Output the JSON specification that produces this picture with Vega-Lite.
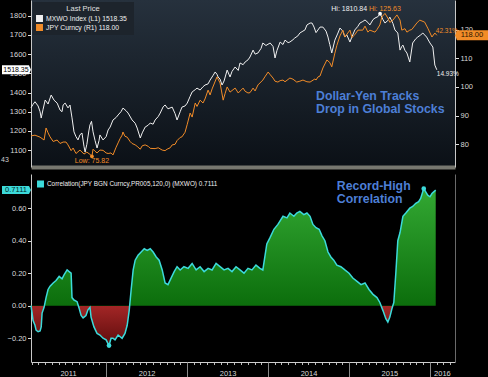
{
  "$schema": "https://vega.github.io/schema/vega-lite/v6.json",
  "background": "black",
  "padding": {"left": 1, "top": 0, "right": 0, "bottom": 0},
  "spacing": 7,
  "config": {
    "view": {"stroke": null},
    "font": "Liberation Sans",
    "axis": {"labelFont": "Liberation Sans", "labelFontSize": 7.5, "labelColor": "#d8d8d8", "tickColor": "#e0e0e0", "domainColor": "#c8c8c8", "grid": false, "tickSize": 3.5, "labelPadding": 1.5}
  },
  "resolve": {"scale": {"color": "independent"}, "legend": {"color": "independent"}},
  "datasets": {
    "mxwo": [
      {"date":"2011-01-27","value":1321},{"date":"2011-02-05","value":1338},{"date":"2011-02-14","value":1352},{"date":"2011-02-28","value":1330},{"date":"2011-03-09","value":1300},{"date":"2011-03-14","value":1267},{"date":"2011-03-22","value":1310},{"date":"2011-04-01","value":1361},{"date":"2011-04-14","value":1340},{"date":"2011-04-28","value":1387},{"date":"2011-05-11","value":1360},{"date":"2011-05-25","value":1345},{"date":"2011-06-07","value":1309},{"date":"2011-06-16","value":1300},{"date":"2011-06-21","value":1335},{"date":"2011-06-30","value":1345},{"date":"2011-07-13","value":1320},{"date":"2011-07-22","value":1335},{"date":"2011-07-31","value":1268},{"date":"2011-08-09","value":1195},{"date":"2011-08-18","value":1170},{"date":"2011-08-27","value":1153},{"date":"2011-09-05","value":1180},{"date":"2011-09-14","value":1189},{"date":"2011-09-23","value":1120},{"date":"2011-09-28","value":1090},{"date":"2011-10-06","value":1130},{"date":"2011-10-15","value":1200},{"date":"2011-10-20","value":1231},{"date":"2011-10-27","value":1250},{"date":"2011-11-03","value":1195},{"date":"2011-11-12","value":1150},{"date":"2011-11-21","value":1111},{"date":"2011-11-30","value":1150},{"date":"2011-12-04","value":1179},{"date":"2011-12-18","value":1153},
      {"date":"2012-01-01","value":1170},{"date":"2012-01-10","value":1205},{"date":"2012-01-19","value":1220},{"date":"2012-02-01","value":1257},{"date":"2012-02-15","value":1270},{"date":"2012-02-24","value":1283},{"date":"2012-03-08","value":1300},{"date":"2012-03-17","value":1319},{"date":"2012-03-31","value":1305},{"date":"2012-04-09","value":1293},{"date":"2012-04-27","value":1257},{"date":"2012-05-11","value":1240},{"date":"2012-05-20","value":1215},{"date":"2012-06-03","value":1163},{"date":"2012-06-12","value":1190},{"date":"2012-06-25","value":1220},{"date":"2012-07-09","value":1230},{"date":"2012-07-18","value":1241},{"date":"2012-07-31","value":1235},{"date":"2012-08-09","value":1257},{"date":"2012-08-23","value":1275},{"date":"2012-09-01","value":1293},{"date":"2012-09-14","value":1325},{"date":"2012-09-23","value":1335},{"date":"2012-10-06","value":1315},{"date":"2012-10-25","value":1324},{"date":"2012-11-07","value":1290},{"date":"2012-11-16","value":1257},{"date":"2012-11-30","value":1300},{"date":"2012-12-08","value":1324},{"date":"2012-12-22","value":1330},
      {"date":"2013-01-01","value":1345},{"date":"2013-01-14","value":1380},{"date":"2013-01-23","value":1403},{"date":"2013-02-06","value":1415},{"date":"2013-02-14","value":1423},{"date":"2013-02-28","value":1413},{"date":"2013-03-13","value":1430},{"date":"2013-03-22","value":1439},{"date":"2013-04-05","value":1445},{"date":"2013-04-14","value":1465},{"date":"2013-04-28","value":1490},{"date":"2013-05-07","value":1507},{"date":"2013-05-15","value":1495},{"date":"2013-05-20","value":1481},{"date":"2013-05-29","value":1470},{"date":"2013-06-07","value":1439},{"date":"2013-06-16","value":1460},{"date":"2013-06-30","value":1517},{"date":"2013-07-13","value":1481},{"date":"2013-07-22","value":1510},{"date":"2013-08-05","value":1533},{"date":"2013-08-19","value":1515},{"date":"2013-08-27","value":1554},{"date":"2013-09-10","value":1545},{"date":"2013-09-19","value":1559},{"date":"2013-10-02","value":1570},{"date":"2013-10-11","value":1585},{"date":"2013-10-25","value":1621},{"date":"2013-11-03","value":1600},{"date":"2013-11-16","value":1606},{"date":"2013-11-30","value":1630},{"date":"2013-12-08","value":1658},{"date":"2013-12-22","value":1645},
      {"date":"2014-01-10","value":1658},{"date":"2014-01-23","value":1640},{"date":"2014-02-01","value":1580},{"date":"2014-02-10","value":1620},{"date":"2014-02-24","value":1663},{"date":"2014-03-09","value":1650},{"date":"2014-03-18","value":1673},{"date":"2014-04-01","value":1660},{"date":"2014-04-09","value":1663},{"date":"2014-04-23","value":1675},{"date":"2014-05-01","value":1684},{"date":"2014-05-15","value":1695},{"date":"2014-05-24","value":1710},{"date":"2014-06-07","value":1720},{"date":"2014-06-16","value":1726},{"date":"2014-06-25","value":1752},{"date":"2014-07-09","value":1762},{"date":"2014-07-18","value":1762},{"date":"2014-07-27","value":1741},{"date":"2014-08-05","value":1712},{"date":"2014-08-23","value":1741},{"date":"2014-09-05","value":1741},{"date":"2014-09-19","value":1720},{"date":"2014-09-28","value":1689},{"date":"2014-10-06","value":1650},{"date":"2014-10-15","value":1606},{"date":"2014-10-29","value":1673},{"date":"2014-11-12","value":1710},{"date":"2014-11-21","value":1736},{"date":"2014-12-04","value":1720},{"date":"2014-12-13","value":1689},{"date":"2014-12-22","value":1700},
      {"date":"2015-01-05","value":1663},{"date":"2015-01-14","value":1690},{"date":"2015-01-27","value":1726},{"date":"2015-02-10","value":1745},{"date":"2015-02-19","value":1762},{"date":"2015-03-04","value":1770},{"date":"2015-03-14","value":1778},{"date":"2015-03-27","value":1765},{"date":"2015-04-05","value":1752},{"date":"2015-04-19","value":1780},{"date":"2015-04-28","value":1788},{"date":"2015-05-11","value":1795},{"date":"2015-05-21","value":1810.84},{"date":"2015-06-03","value":1780},{"date":"2015-06-12","value":1762},{"date":"2015-06-25","value":1775},{"date":"2015-07-04","value":1793},{"date":"2015-07-18","value":1760},{"date":"2015-07-27","value":1726},{"date":"2015-08-09","value":1710},{"date":"2015-08-19","value":1621},{"date":"2015-08-27","value":1640},{"date":"2015-09-01","value":1647},{"date":"2015-09-10","value":1620},{"date":"2015-09-19","value":1606},{"date":"2015-10-02","value":1559},{"date":"2015-10-15","value":1658},{"date":"2015-10-29","value":1680},{"date":"2015-11-07","value":1689},{"date":"2015-11-20","value":1700},{"date":"2015-11-30","value":1710},{"date":"2015-12-08","value":1700},{"date":"2015-12-17","value":1689},{"date":"2016-01-01","value":1658},{"date":"2016-01-14","value":1637},{"date":"2016-01-23","value":1543},{"date":"2016-02-01","value":1518.35}
    ],
    "jpy": [
      {"date":"2011-01-27","value":82.93},{"date":"2011-02-14","value":83.2},{"date":"2011-03-09","value":82.5},{"date":"2011-03-27","value":81.5},{"date":"2011-04-05","value":85.7},{"date":"2011-04-14","value":84.0},{"date":"2011-04-23","value":82.6},{"date":"2011-05-07","value":81.0},{"date":"2011-05-25","value":81.5},{"date":"2011-06-07","value":80.3},{"date":"2011-06-21","value":80.8},{"date":"2011-07-04","value":80.8},{"date":"2011-07-13","value":79.8},{"date":"2011-07-27","value":77.8},{"date":"2011-08-05","value":78.7},{"date":"2011-08-18","value":76.8},{"date":"2011-09-05","value":78.0},{"date":"2011-09-23","value":76.6},{"date":"2011-10-06","value":77.3},{"date":"2011-10-20","value":76.5},{"date":"2011-10-29","value":75.82},{"date":"2011-11-03","value":78.3},{"date":"2011-11-12","value":77.6},{"date":"2011-11-21","value":77.0},{"date":"2011-12-04","value":78.0},{"date":"2011-12-18","value":77.9},
      {"date":"2012-01-01","value":77.0},{"date":"2012-01-10","value":76.8},{"date":"2012-01-23","value":77.0},{"date":"2012-02-01","value":76.3},{"date":"2012-02-15","value":79.0},{"date":"2012-02-24","value":80.5},{"date":"2012-03-04","value":82.0},{"date":"2012-03-13","value":83.2},{"date":"2012-03-17","value":84.3},{"date":"2012-03-26","value":82.8},{"date":"2012-04-05","value":82.5},{"date":"2012-04-18","value":81.0},{"date":"2012-04-27","value":80.3},{"date":"2012-05-11","value":79.8},{"date":"2012-05-20","value":79.3},{"date":"2012-06-03","value":78.3},{"date":"2012-06-12","value":79.5},{"date":"2012-06-25","value":79.8},{"date":"2012-07-09","value":79.3},{"date":"2012-07-18","value":78.6},{"date":"2012-08-09","value":78.5},{"date":"2012-08-23","value":78.8},{"date":"2012-09-10","value":78.0},{"date":"2012-09-23","value":77.8},{"date":"2012-10-02","value":78.3},{"date":"2012-10-16","value":78.8},{"date":"2012-10-25","value":79.8},{"date":"2012-11-07","value":80.0},{"date":"2012-11-16","value":81.3},{"date":"2012-11-30","value":82.4},{"date":"2012-12-08","value":82.6},{"date":"2012-12-22","value":84.2},
      {"date":"2013-01-01","value":87.0},{"date":"2013-01-14","value":90.9},{"date":"2013-01-23","value":89.5},{"date":"2013-02-06","value":94.4},{"date":"2013-02-14","value":93.2},{"date":"2013-02-28","value":95.4},{"date":"2013-03-13","value":94.4},{"date":"2013-03-22","value":95.8},{"date":"2013-04-05","value":98.9},{"date":"2013-04-14","value":97.2},{"date":"2013-04-23","value":99.3},{"date":"2013-05-15","value":103.5},{"date":"2013-05-29","value":101.4},{"date":"2013-06-12","value":95.4},{"date":"2013-06-21","value":97.8},{"date":"2013-06-30","value":100.0},{"date":"2013-07-13","value":98.2},{"date":"2013-08-05","value":99.6},{"date":"2013-08-19","value":97.9},{"date":"2013-09-10","value":99.6},{"date":"2013-09-19","value":98.5},{"date":"2013-10-02","value":97.9},{"date":"2013-10-11","value":98.0},{"date":"2013-10-25","value":99.6},{"date":"2013-11-03","value":98.6},{"date":"2013-11-16","value":100.7},{"date":"2013-12-08","value":102.4},{"date":"2013-12-17","value":103.5},
      {"date":"2014-01-01","value":105.2},{"date":"2014-01-10","value":104.3},{"date":"2014-01-23","value":103.1},{"date":"2014-02-01","value":102.0},{"date":"2014-02-14","value":101.7},{"date":"2014-02-24","value":102.2},{"date":"2014-03-09","value":102.4},{"date":"2014-03-18","value":101.8},{"date":"2014-04-09","value":103.1},{"date":"2014-04-23","value":102.7},{"date":"2014-05-10","value":101.7},{"date":"2014-05-24","value":102.0},{"date":"2014-06-07","value":102.4},{"date":"2014-06-25","value":101.8},{"date":"2014-07-09","value":101.7},{"date":"2014-07-31","value":102.8},{"date":"2014-08-05","value":102.4},{"date":"2014-08-14","value":103.5},{"date":"2014-08-23","value":103.8},{"date":"2014-09-05","value":106.6},{"date":"2014-09-23","value":109.4},{"date":"2014-10-06","value":108.5},{"date":"2014-10-15","value":107.0},{"date":"2014-10-29","value":111.8},{"date":"2014-11-07","value":114.5},{"date":"2014-11-21","value":117.8},{"date":"2014-12-04","value":119.8},{"date":"2014-12-13","value":117.4},
      {"date":"2015-01-05","value":119.8},{"date":"2015-01-14","value":117.2},{"date":"2015-01-27","value":118.2},{"date":"2015-02-10","value":119.8},{"date":"2015-03-04","value":119.8},{"date":"2015-03-14","value":121.2},{"date":"2015-03-27","value":119.1},{"date":"2015-04-05","value":119.8},{"date":"2015-04-28","value":119.1},{"date":"2015-05-07","value":120.0},{"date":"2015-05-20","value":121.6},{"date":"2015-05-29","value":124.4},{"date":"2015-06-12","value":125.63},{"date":"2015-06-25","value":124.0},{"date":"2015-07-04","value":122.5},{"date":"2015-07-18","value":123.3},{"date":"2015-08-05","value":125.1},{"date":"2015-08-19","value":123.3},{"date":"2015-08-27","value":119.8},{"date":"2015-09-10","value":120.3},{"date":"2015-09-19","value":119.1},{"date":"2015-10-02","value":119.8},{"date":"2015-10-11","value":120.0},{"date":"2015-11-03","value":122.3},{"date":"2015-11-16","value":123.3},{"date":"2015-12-08","value":122.6},{"date":"2015-12-22","value":120.5},{"date":"2016-01-10","value":117.4},{"date":"2016-01-23","value":118.8},{"date":"2016-02-01","value":118.0}
    ],
    "corr": [
      {"date":"2011-01-27","value":0.0},{"date":"2011-02-01","value":-0.045},{"date":"2011-02-05","value":-0.09},{"date":"2011-02-14","value":-0.12},{"date":"2011-02-19","value":-0.15},{"date":"2011-02-28","value":-0.16},{"date":"2011-03-09","value":-0.155},{"date":"2011-03-14","value":-0.13},{"date":"2011-03-18","value":-0.045},{"date":"2011-03-27","value":-0.01},{"date":"2011-04-05","value":0.05},{"date":"2011-04-14","value":0.10},{"date":"2011-04-23","value":0.12},{"date":"2011-05-07","value":0.14},{"date":"2011-05-20","value":0.155},{"date":"2011-06-03","value":0.18},{"date":"2011-06-16","value":0.165},{"date":"2011-06-25","value":0.19},{"date":"2011-07-09","value":0.22},{"date":"2011-07-18","value":0.21},{"date":"2011-07-27","value":0.20},{"date":"2011-07-31","value":0.05},{"date":"2011-08-09","value":0.035},{"date":"2011-08-23","value":0.025},{"date":"2011-09-01","value":-0.015},{"date":"2011-09-10","value":-0.06},{"date":"2011-09-19","value":-0.075},{"date":"2011-10-02","value":-0.06},{"date":"2011-10-11","value":-0.025},{"date":"2011-10-20","value":-0.01},{"date":"2011-10-25","value":-0.07},{"date":"2011-11-07","value":-0.13},{"date":"2011-11-21","value":-0.17},{"date":"2011-12-04","value":-0.18},{"date":"2011-12-18","value":-0.20},
      {"date":"2012-01-01","value":-0.21},{"date":"2012-01-14","value":-0.245},{"date":"2012-01-23","value":-0.20},{"date":"2012-02-01","value":-0.20},{"date":"2012-02-10","value":-0.21},{"date":"2012-02-24","value":-0.18},{"date":"2012-03-13","value":-0.20},{"date":"2012-03-26","value":-0.17},{"date":"2012-04-05","value":-0.12},{"date":"2012-04-14","value":-0.03},{"date":"2012-04-23","value":0.10},{"date":"2012-05-02","value":0.22},{"date":"2012-05-11","value":0.28},{"date":"2012-05-24","value":0.31},{"date":"2012-06-07","value":0.33},{"date":"2012-06-21","value":0.35},{"date":"2012-07-04","value":0.34},{"date":"2012-07-18","value":0.35},{"date":"2012-07-31","value":0.33},{"date":"2012-08-14","value":0.30},{"date":"2012-08-27","value":0.28},{"date":"2012-09-10","value":0.22},{"date":"2012-09-23","value":0.14},{"date":"2012-10-06","value":0.13},{"date":"2012-10-20","value":0.17},{"date":"2012-11-03","value":0.21},{"date":"2012-11-16","value":0.24},{"date":"2012-11-30","value":0.22},{"date":"2012-12-17","value":0.24},
      {"date":"2013-01-05","value":0.23},{"date":"2013-01-23","value":0.26},{"date":"2013-02-10","value":0.22},{"date":"2013-02-28","value":0.24},{"date":"2013-03-18","value":0.21},{"date":"2013-04-05","value":0.23},{"date":"2013-04-23","value":0.22},{"date":"2013-05-11","value":0.26},{"date":"2013-05-29","value":0.24},{"date":"2013-06-16","value":0.22},{"date":"2013-07-04","value":0.23},{"date":"2013-07-22","value":0.21},{"date":"2013-08-09","value":0.24},{"date":"2013-08-27","value":0.22},{"date":"2013-09-14","value":0.20},{"date":"2013-10-02","value":0.23},{"date":"2013-10-20","value":0.22},{"date":"2013-11-07","value":0.25},{"date":"2013-11-25","value":0.23},{"date":"2013-12-08","value":0.22},{"date":"2013-12-17","value":0.30},{"date":"2013-12-26","value":0.38},
      {"date":"2014-01-10","value":0.42},{"date":"2014-01-27","value":0.47},{"date":"2014-02-14","value":0.50},{"date":"2014-03-09","value":0.55},{"date":"2014-03-27","value":0.54},{"date":"2014-04-09","value":0.57},{"date":"2014-04-27","value":0.55},{"date":"2014-05-10","value":0.57},{"date":"2014-05-24","value":0.58},{"date":"2014-06-11","value":0.56},{"date":"2014-06-25","value":0.57},{"date":"2014-07-09","value":0.55},{"date":"2014-07-22","value":0.50},{"date":"2014-08-05","value":0.48},{"date":"2014-08-19","value":0.47},{"date":"2014-09-01","value":0.43},{"date":"2014-09-14","value":0.40},{"date":"2014-09-28","value":0.33},{"date":"2014-10-11","value":0.30},{"date":"2014-10-24","value":0.28},{"date":"2014-11-07","value":0.25},{"date":"2014-11-25","value":0.24},{"date":"2014-12-13","value":0.22},
      {"date":"2015-01-01","value":0.20},{"date":"2015-01-18","value":0.17},{"date":"2015-02-06","value":0.15},{"date":"2015-02-24","value":0.13},{"date":"2015-03-14","value":0.14},{"date":"2015-04-01","value":0.10},{"date":"2015-04-19","value":0.07},{"date":"2015-05-07","value":0.05},{"date":"2015-05-20","value":0.02},{"date":"2015-06-03","value":-0.03},{"date":"2015-06-16","value":-0.08},{"date":"2015-06-25","value":-0.10},{"date":"2015-07-04","value":-0.07},{"date":"2015-07-13","value":-0.02},{"date":"2015-07-22","value":0.02},{"date":"2015-07-31","value":0.20},{"date":"2015-08-09","value":0.40},{"date":"2015-08-19","value":0.45},{"date":"2015-09-01","value":0.55},{"date":"2015-09-14","value":0.57},{"date":"2015-10-02","value":0.60},{"date":"2015-10-15","value":0.61},{"date":"2015-10-29","value":0.63},{"date":"2015-11-11","value":0.64},{"date":"2015-11-20","value":0.66},{"date":"2015-12-04","value":0.72},{"date":"2015-12-13","value":0.70},{"date":"2015-12-22","value":0.68},{"date":"2016-01-01","value":0.67},{"date":"2016-01-10","value":0.69},{"date":"2016-01-18","value":0.70},{"date":"2016-01-27","value":0.7111}
    ]
  },
  "vconcat": [
    {
      "width": 424,
      "height": 167,
      "view": {"stroke": null, "fill": {"gradient": "linear", "x1": 0, "y1": 0, "x2": 0, "y2": 1, "stops": [{"offset": 0, "color": "#26313d"}, {"offset": 1, "color": "#0b1016"}]}},
      "encoding": {
        "x": {"field": "date", "type": "temporal", "title": null,
              "scale": {"domain": [{"year": 2011, "month": 1, "date": 27, "utc": true}, {"year": 2016, "month": 4, "date": 23, "utc": true}]},
              "axis": {"orient": "bottom", "labels": false, "ticks": false, "domainColor": "#77776f", "domainWidth": 4}}
      },
      "resolve": {"scale": {"y": "independent"}, "axis": {"y": "independent"}},
      "layer": [
        {
          "encoding": {
            "y": {"field": "value", "type": "quantitative", "title": null,
                  "scale": {"domain": [1012, 1882], "nice": false, "zero": false},
                  "axis": {"orient": "left", "format": "d", "values": [1100, 1200, 1300, 1400, 1500, 1600, 1700, 1800]}}
          },
          "layer": [
            {
              "data": {"name": "mxwo"},
              "mark": {"type": "line", "strokeWidth": 1},
              "encoding": {
                "color": {"datum": "MXWO Index  (L1)  1518.35", "type": "nominal",
                  "scale": {"domain": ["MXWO Index  (L1)  1518.35", "JPY Curncy  (R1)  118.00"], "range": ["#f0f0f0", "#f28c28"]},
                  "legend": {"title": "Last Price", "orient": "top-left", "offset": 2, "fillColor": "#1d242c", "padding": 3, "symbolType": "square", "symbolSize": 12, "symbolStrokeWidth": 3.5, "clipHeight": 8, "labelColor": "#f0f0f0", "labelFontSize": 6.8, "labelLimit": 0, "labelOffset": 3, "titleColor": "#e0e0e0", "titleFontSize": 7.5, "titleFontWeight": "normal", "titleAnchor": "middle", "rowPadding": 1, "titlePadding": 2}}
              }
            },
            {
              "data": {"values": [{"date": "2015-05-21", "value": 1810.84, "label": "Hi: 1810.84"}]},
              "layer": [
                {"mark": {"type": "point", "filled": true, "color": "#ffffff", "size": 14, "opacity": 1}},
                {"mark": {"type": "text", "align": "right", "baseline": "middle", "dx": -13, "dy": -5, "fontSize": 7, "color": "#f0f0f0"}, "encoding": {"text": {"field": "label"}}}
              ]
            },
            {
              "data": {"values": [{"date": "2011-01-27", "value": 1518.35, "label": "1518.35"}]},
              "layer": [
                {"mark": {"type": "point", "shape": "M-29,-4.5H-2L0,0L-2,4.5H-29Z", "size": 4, "filled": true, "color": "#ffffff", "opacity": 1}},
                {"mark": {"type": "text", "align": "center", "baseline": "middle", "dx": -15, "fontSize": 7, "color": "#000000"}, "encoding": {"text": {"field": "label"}}}
              ]
            },
            {
              "data": {"values": [{"date": "2016-02-01", "value": 1518.35, "label": "14.93%"}]},
              "mark": {"type": "text", "align": "left", "baseline": "middle", "dx": 0, "dy": 4, "fontSize": 6.5, "color": "#f0f0f0"},
              "encoding": {"text": {"field": "label"}}
            },
            {
              "data": {"values": [{"date": "2011-01-27", "value": 1048, "label": "43"}]},
              "mark": {"type": "text", "align": "left", "baseline": "middle", "dx": -30, "fontSize": 7, "color": "#cfcfcf"},
              "encoding": {"text": {"field": "label"}}
            },
            {
              "data": {"values": [{"date": "2014-08-05", "value": 1382, "label": "Dollar-Yen Tracks"}, {"date": "2014-08-05", "value": 1314, "label": "Drop in Global Stocks"}]},
              "mark": {"type": "text", "align": "left", "baseline": "middle", "fontSize": 12.3, "fontWeight": "bold", "color": "#4d7fd6"},
              "encoding": {"text": {"field": "label"}}
            }
          ]
        },
        {
          "encoding": {
            "y": {"field": "value", "type": "quantitative", "title": null,
                  "scale": {"domain": [72.1, 130.3], "nice": false, "zero": false},
                  "axis": {"orient": "right", "values": [80, 90, 100, 110, 120]}}
          },
          "layer": [
            {
              "data": {"name": "jpy"},
              "mark": {"type": "line", "strokeWidth": 1},
              "encoding": {"color": {"datum": "JPY Curncy  (R1)  118.00", "type": "nominal"}}
            },
            {
              "data": {"values": [{"date": "2011-10-29", "value": 75.82, "label": "Low: 75.82"}]},
              "layer": [
                {"mark": {"type": "point", "filled": true, "color": "#f28c28", "size": 14, "opacity": 1}},
                {"mark": {"type": "text", "align": "center", "baseline": "middle", "dy": 5, "fontSize": 7, "color": "#f28c28"}, "encoding": {"text": {"field": "label"}}}
              ]
            },
            {
              "data": {"values": [{"date": "2015-06-12", "value": 125.63, "label": "Hi: 125.63"}]},
              "mark": {"type": "text", "align": "left", "baseline": "middle", "dx": -16, "dy": -4, "fontSize": 7, "color": "#f28c28"},
              "encoding": {"text": {"field": "label"}}
            },
            {
              "data": {"values": [{"date": "2016-02-01", "value": 118.0, "label": "42.31%"}]},
              "mark": {"type": "text", "align": "left", "baseline": "middle", "dx": -1, "dy": -4, "fontSize": 6.5, "color": "#f28c28"},
              "encoding": {"text": {"field": "label"}}
            },
            {
              "data": {"values": [{"date": "2016-04-23", "value": 118.0, "label": "118.00"}]},
              "layer": [
                {"mark": {"type": "point", "shape": "M0,0L2,-5H33V5H2Z", "size": 4, "filled": true, "color": "#f28c28", "opacity": 1}},
                {"mark": {"type": "text", "align": "center", "baseline": "middle", "dx": 17, "fontSize": 7.5, "color": "#2a1500"}, "encoding": {"text": {"field": "label"}}}
              ]
            }
          ]
        }
      ]
    },
    {
      "width": 424,
      "height": 188,
      "resolve": {"axis": {"x": "independent", "y": "independent"}},
      "layer": [
        {
          "data": {"name": "corr"},
          "mark": {"type": "area", "color": {"gradient": "linear", "x1": 0, "y1": 0, "x2": 0, "y2": 1, "stops": [{"offset": 0, "color": "#33a833"}, {"offset": 0.746, "color": "#0c6e0c"}, {"offset": 0.746, "color": "#a32626"}, {"offset": 1, "color": "#5e0c0c"}]}},
          "encoding": {
            "x": {"field": "date", "type": "temporal", "title": null,
                  "scale": {"domain": [{"year": 2011, "month": 1, "date": 27, "utc": true}, {"year": 2016, "month": 4, "date": 23, "utc": true}]},
                  "axis": {"orient": "bottom", "labels": false, "tickCount": {"interval": "month", "step": 1}, "tickSize": 2.5, "tickColor": "#bdbdbd", "domainColor": "#cfcfcf"}},
            "y": {"field": "value", "type": "quantitative", "title": null,
                  "scale": {"domain": [-0.346, 0.81], "nice": false, "zero": false},
                  "axis": {"orient": "left", "values": [-0.2, 0, 0.2, 0.4, 0.6], "format": ".2f"}},
            "y2": {"datum": 0}
          }
        },
        {
          "data": {"name": "corr"},
          "mark": {"type": "line", "strokeWidth": 1.5},
          "encoding": {
            "x": {"field": "date", "type": "temporal", "title": null,
                  "scale": {"domain": [{"year": 2011, "month": 1, "date": 27, "utc": true}, {"year": 2016, "month": 4, "date": 23, "utc": true}]},
                  "axis": {"orient": "bottom", "labels": false, "domain": false, "tickSize": 15, "tickColor": "#8a8a8a",
                           "values": [{"year": 2012, "month": 1, "date": 1, "utc": true}, {"year": 2013, "month": 1, "date": 1, "utc": true}, {"year": 2014, "month": 1, "date": 1, "utc": true}, {"year": 2015, "month": 1, "date": 1, "utc": true}, {"year": 2016, "month": 1, "date": 1, "utc": true}]}},
            "y": {"field": "value", "type": "quantitative", "title": null,
                  "scale": {"domain": [-0.346, 0.81], "nice": false, "zero": false},
                  "axis": {"orient": "right", "labels": false, "ticks": false, "domainColor": "#6a6a6a"}},
            "color": {"datum": "Correlation(JPY BGN Curncy,PR005,120,0) (MXWO) 0.7111", "type": "nominal",
                      "scale": {"range": ["#3cdada"]},
                      "legend": {"title": null, "orient": "top-left", "offset": 6, "padding": 0, "symbolType": "square", "symbolSize": 12, "symbolStrokeWidth": 3.5, "clipHeight": 8, "labelOffset": 3, "labelColor": "#f0f0f0", "labelFontSize": 6.4, "labelLimit": 0}}
          }
        },
        {
          "data": {"values": [{"date": "2012-01-14", "value": -0.245}, {"date": "2015-12-04", "value": 0.72}]},
          "mark": {"type": "point", "filled": true, "color": "#3cdada", "size": 22, "opacity": 1},
          "encoding": {
            "x": {"field": "date", "type": "temporal", "title": null,
                  "scale": {"domain": [{"year": 2011, "month": 1, "date": 27, "utc": true}, {"year": 2016, "month": 4, "date": 23, "utc": true}]},
                  "axis": {"orient": "bottom", "ticks": false, "domain": false, "format": "%Y", "labelPadding": 7, "labelFlush": false, "labelOverlap": false, "labelBound": false, "labelFontSize": 7.5,
                           "values": [{"year": 2011, "month": 7, "date": 13, "utc": true}, {"year": 2012, "month": 7, "date": 2, "utc": true}, {"year": 2013, "month": 7, "date": 2, "utc": true}, {"year": 2014, "month": 7, "date": 2, "utc": true}, {"year": 2015, "month": 7, "date": 2, "utc": true}, {"year": 2016, "month": 2, "date": 24, "utc": true}]}},
            "y": {"field": "value", "type": "quantitative", "title": null,
                  "scale": {"domain": [-0.346, 0.81], "nice": false, "zero": false}, "axis": null}
          }
        },
        {
          "data": {"values": [{"date": "2011-01-27", "value": 0.7111, "label": "0.7111"}]},
          "encoding": {
            "x": {"field": "date", "type": "temporal", "axis": null,
                  "scale": {"domain": [{"year": 2011, "month": 1, "date": 27, "utc": true}, {"year": 2016, "month": 4, "date": 23, "utc": true}]}},
            "y": {"field": "value", "type": "quantitative", "axis": null,
                  "scale": {"domain": [-0.346, 0.81], "nice": false, "zero": false}}
          },
          "layer": [
            {"mark": {"type": "point", "shape": "M-29,-4H-2L0,0L-2,4H-29Z", "size": 4, "filled": true, "color": "#3cdada", "opacity": 1}},
            {"mark": {"type": "text", "align": "center", "baseline": "middle", "dx": -15, "fontSize": 7.5, "color": "#002a2a"}, "encoding": {"text": {"field": "label"}}}
          ]
        },
        {
          "data": {"values": [{"date": "2014-11-07", "value": 0.737, "label": "Record-High"}, {"date": "2014-11-07", "value": 0.657, "label": "Correlation"}]},
          "mark": {"type": "text", "align": "left", "baseline": "middle", "fontSize": 12.3, "fontWeight": "bold", "color": "#4d7fd6"},
          "encoding": {
            "x": {"field": "date", "type": "temporal", "axis": null,
                  "scale": {"domain": [{"year": 2011, "month": 1, "date": 27, "utc": true}, {"year": 2016, "month": 4, "date": 23, "utc": true}]}},
            "y": {"field": "value", "type": "quantitative", "axis": null,
                  "scale": {"domain": [-0.346, 0.81], "nice": false, "zero": false}},
            "text": {"field": "label"}
          }
        }
      ]
    }
  ]
}
